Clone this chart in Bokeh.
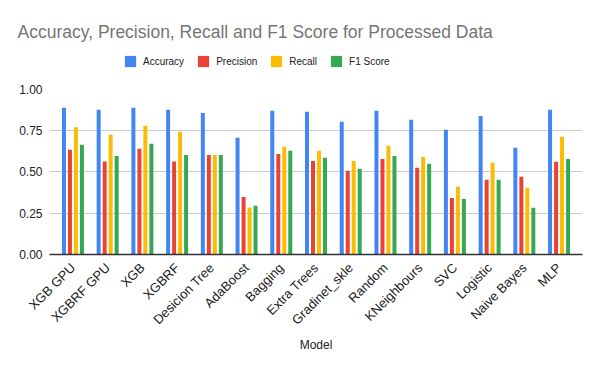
from math import pi
from bokeh.plotting import figure
from bokeh.layouts import column
from bokeh.models import (FactorRange, Range1d, Legend, LegendItem, FixedTicker,
                          NumeralTickFormatter, ColumnDataSource)
from bokeh.transform import dodge
from bokeh.embed import file_html
from bokeh.resources import INLINE

models = ["XGB GPU", "XGBRF GPU", "XGB", "XGBRF", "Desicion Tree", "AdaBoost", "Bagging",
          "Extra Trees", "Gradinet_skle", "Random", "KNeighbours", "SVC", "Logistic",
          "Naive Bayes", "MLP"]
accuracy = [0.884, 0.872, 0.884, 0.872, 0.853, 0.703, 0.866, 0.860, 0.799, 0.866, 0.811,
            0.751, 0.835, 0.643, 0.872]
precision = [0.631, 0.560, 0.637, 0.560, 0.600, 0.347, 0.606, 0.564, 0.504, 0.576, 0.522,
             0.341, 0.450, 0.468, 0.558]
recall = [0.767, 0.721, 0.775, 0.739, 0.600, 0.283, 0.649, 0.625, 0.564, 0.655, 0.588,
          0.408, 0.552, 0.402, 0.709]
f1_score = [0.661, 0.594, 0.667, 0.600, 0.600, 0.293, 0.625, 0.583, 0.516, 0.594, 0.546,
            0.335, 0.450, 0.281, 0.576]

series_names = ["Accuracy", "Precision", "Recall", "F1 Score"]
series_keys = ["accuracy", "precision", "recall", "f1"]
colors = ["#4285F4", "#EA4335", "#FBBC04", "#34A853"]
offsets = [-0.259, -0.086, 0.086, 0.259]
title_text = "Accuracy, Precision, Recall and F1 Score for Processed Data"

FONT = "Liberation Sans"
W, H = 584, 355
HEADER_H = 84

source = ColumnDataSource(dict(model=models, accuracy=accuracy, precision=precision,
                               recall=recall, f1=f1_score))

# ---- header: title + legend ----
header = figure(width=W, height=HEADER_H, x_range=Range1d(0, 1), y_range=Range1d(0, 1),
                output_backend="svg", toolbar_location=None,
                x_axis_location=None, y_axis_location=None,
                min_border_left=49, min_border_right=W - 582, min_border_top=46,
                min_border_bottom=0)
header.outline_line_color = None
header.grid.visible = False
header.title.text = title_text
header.title.text_font = FONT
header.title.text_font_size = "17.5px"
header.title.text_font_style = "normal"
header.title.text_color = "#757575"
header.title.align = "left"
header.title.offset = -32

# legend proxies: one point each, placed outside the visible range
proxies = []
for col in colors:
    proxies.append(header.vbar(x=[-5], top=[-5], width=0.1, fill_color=col, line_color=None))

legend = Legend(items=[LegendItem(label=n, renderers=[r]) for n, r in zip(series_names, proxies)],
                orientation="horizontal", location=(74, 16),
                glyph_width=14, glyph_height=14, label_standoff=6, spacing=12,
                label_text_font=FONT, label_text_font_size="10px",
                label_text_color="#222222", border_line_color=None,
                background_fill_alpha=0, padding=0, margin=0)
header.add_layout(legend)

# ---- main chart ----
p = figure(x_range=FactorRange(*models, range_padding=0.175, range_padding_units="absolute"),
           y_range=Range1d(0, 1), width=W, height=H - HEADER_H,
           output_backend="svg", toolbar_location=None,
           min_border_left=49, min_border_right=W - 582, min_border_top=4,
           min_border_bottom=H - 254)

for key, col, off in zip(series_keys, colors, offsets):
    p.vbar(x=dodge("model", off, range=p.x_range), top=key, width=0.115,
           source=source, fill_color=col, line_color=None)

p.outline_line_color = None
p.background_fill_color = "white"

p.xgrid.grid_line_color = None
p.ygrid.grid_line_color = "#cccccc"
p.ygrid.grid_line_width = 1

p.yaxis.ticker = FixedTicker(ticks=[0, 0.25, 0.5, 0.75, 1.0])
p.yaxis.formatter = NumeralTickFormatter(format="0.00")
p.yaxis.axis_line_color = None
p.yaxis.major_tick_line_color = None
p.yaxis.minor_tick_line_color = None
p.yaxis.major_tick_out = 0
p.yaxis.minor_tick_out = 0
p.yaxis.major_label_standoff = 7
p.yaxis.major_label_text_font = FONT
p.yaxis.major_label_text_font_size = "12px"
p.yaxis.major_label_text_color = "#222222"

p.xaxis.axis_line_color = "#333333"
p.xaxis.axis_line_width = 1.5
p.xaxis.major_tick_line_color = None
p.xaxis.minor_tick_line_color = None
p.xaxis.major_tick_out = 0
p.xaxis.minor_tick_out = 0
p.xaxis.major_label_orientation = pi / 4
p.xaxis.major_label_standoff = 11
p.xaxis.major_label_text_font = FONT
p.xaxis.major_label_text_font_size = "13px"
p.xaxis.major_label_text_color = "#222222"
p.xaxis.axis_label = "Model"
p.xaxis.axis_label_text_font = FONT
p.xaxis.axis_label_text_font_size = "12px"
p.xaxis.axis_label_text_font_style = "normal"
p.xaxis.axis_label_text_color = "#222222"
p.xaxis.axis_label_standoff = 2

open("out.html", "w").write(file_html(column(header, p), INLINE))
